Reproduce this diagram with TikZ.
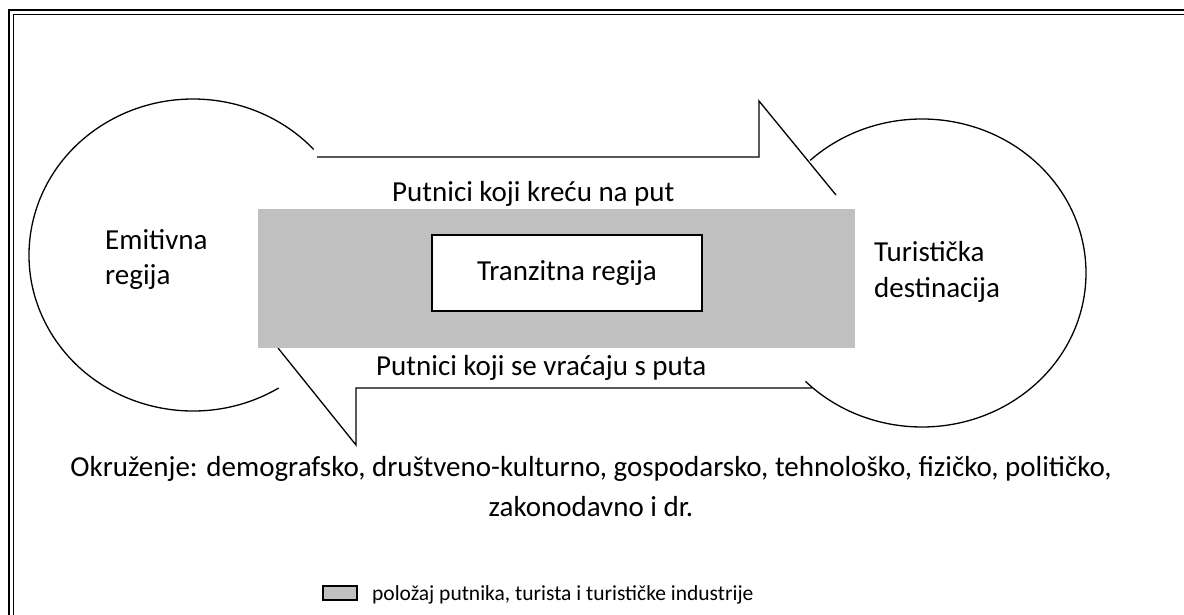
\documentclass[tikz,border=0pt]{standalone}
\usepackage{fontspec}
\setmainfont{Carlito}
\definecolor{regiongray}{RGB}{192,192,192}
\begin{document}
\begin{tikzpicture}[x=1pt, y=-1pt,
  lin/.style={line width=1.3pt},
  txt/.style={anchor=base west, inner sep=0pt},
  ctxt/.style={anchor=base, inner sep=0pt},
  font=\fontsize{29}{35}\selectfont]
\useasboundingbox (0,0) rectangle (1184,615);
\coordinate (fo1) at (8.5,615);
\coordinate (fo2) at (8.5,10);
\coordinate (fo3) at (1184,10);
\coordinate (fi1) at (13,615);
\coordinate (fi2) at (13,14.5);
\coordinate (fi3) at (1184,14.5);
\draw[line width=2pt] (fo1) -- (fo2) -- (fo3);
\draw[line width=1pt] (fi1) -- (fi2) -- (fi3);
\coordinate (emit) at (193,255);
\coordinate (dest) at (922,273);
\draw[lin] (emit) ++(58.5:164 and 156) arc[start angle=58.5, end angle=317.4, x radius=164, y radius=156];
\draw[lin] (dest) ++(-133:164 and 154) arc[start angle=-133, end angle=135.3, x radius=164, y radius=154];
\coordinate (ta1) at (317,157);
\coordinate (ta2) at (759,157);
\coordinate (ta3) at (759,101);
\coordinate (ta4) at (836,195);
\draw[lin] (ta1) -- (ta2) -- (ta3) -- (ta4);
\coordinate (ba1) at (278,348);
\coordinate (ba2) at (356,445);
\coordinate (ba3) at (356,388);
\coordinate (ba4) at (812,388);
\draw[lin] (ba1) -- (ba2) -- (ba3) -- (ba4);
\node[fill=regiongray, minimum width=597pt, minimum height=139pt, inner sep=0pt] (trans) at (556.5,278.5) {};
\node[draw, lin, fill=white, minimum width=270pt, minimum height=76pt, inner sep=0pt] (tbox) at (567,273) {Tranzitna regija};
\node[txt] (emit1) at (105,249) {Emitivna};
\node[txt] (emit2) at (105,284) {regija};
\node[txt] (dest1) at (874,261) {Turistička};
\node[txt] (dest2) at (874,297) {destinacija};
\node[txt] (odlazak) at (392,201) {Putnici koji kreću na put};
\node[txt] (povratak) at (376,375) {Putnici koji se vraćaju s puta};
\node[ctxt] (okr1) at (591,476) {Okruženje: demografsko, društveno-kulturno, gospodarsko, tehnološko, fizičko, političko,};
\node[ctxt] (okr2) at (591,516) {zakonodavno i dr.};
\node[draw, lin, fill=regiongray, minimum width=34pt, minimum height=14pt, inner sep=0pt] (legbox) at (340,593) {};
\node[txt, font=\fontsize{21.5}{26}\selectfont] (legtxt) at (372,600) {položaj putnika, turista i turističke industrije};
\end{tikzpicture}
\end{document}
